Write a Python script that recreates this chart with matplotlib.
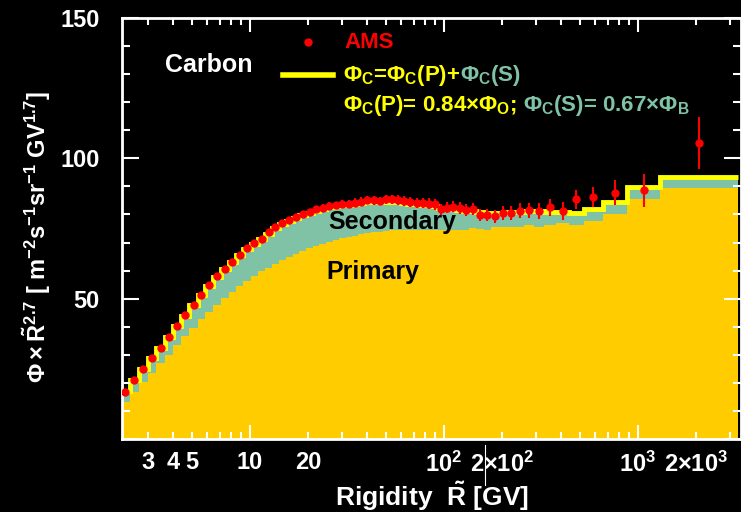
import numpy as np
import matplotlib
matplotlib.use('Agg')
import matplotlib.pyplot as plt
from matplotlib.ticker import FixedLocator, LogLocator, MultipleLocator, FuncFormatter
from matplotlib.lines import Line2D

plt.rcParams['font.family'] = ['Liberation Sans', 'DejaVu Sans']
plt.rcParams['font.weight'] = 'bold'
plt.rcParams['axes.labelweight'] = 'bold'
plt.rcParams['mathtext.fontset'] = 'custom'
plt.rcParams['mathtext.rm'] = 'Liberation Sans:bold'
plt.rcParams['mathtext.it'] = 'Liberation Sans:bold'
plt.rcParams['mathtext.bf'] = 'Liberation Sans:bold'
plt.rcParams['mathtext.sf'] = 'Liberation Sans:bold'
plt.rcParams['mathtext.default'] = 'rm'

# rigidity bin edges [GV]
edges = np.array([2.15, 2.40, 2.67, 2.97, 3.29, 3.64, 4.02, 4.43, 4.88, 5.37,
                  5.90, 6.47, 7.09, 7.76, 8.48, 9.26, 10.1, 11.0, 12.0, 13.0,
                  14.1, 15.3, 16.6, 18.0, 19.5, 21.1, 22.8, 24.7, 26.7, 28.8,
                  31.1, 33.5, 36.1, 38.9, 41.9, 45.1, 48.5, 52.2, 56.1, 60.3,
                  64.8, 69.7, 74.9, 80.5, 86.5, 93.0, 100, 108, 116, 125,
                  135, 147, 160, 175, 192, 211, 233, 259, 291, 330,
                  379, 441, 525, 660, 880, 1300, 3300])

# AMS carbon flux x R^2.7
ams_flux = [16.8, 21.1, 25.0, 28.9, 32.5, 36.4, 40.4, 44.3, 47.9, 51.4,
            55.0, 57.9, 60.7, 63.2, 65.7, 67.9, 70.0, 71.4,
            73.6, 75.5, 77.0, 78.0, 79.2, 80.2, 81.0, 81.8, 82.4, 83.0, 83.3, 83.6, 83.9, 84.2, 84.6,
            85.1, 85.1, 84.8, 85.4, 85.4, 85.1, 84.8, 84.4, 84.2, 84.2, 83.9, 83.6,
            81.8, 82.4, 82.8, 82.4, 81.5, 82.0,
            79.8, 79.8, 79.4, 80.6, 80.4, 81.4, 81.5, 81.3, 82.6, 81.2,
            85.4, 86.2, 87.8, 88.6, 105.4]
ams_err = [0.4, 0.4, 0.4, 0.4, 0.4, 0.4, 0.4, 0.4, 0.4, 0.4,
           0.5, 0.5, 0.6, 0.6, 0.6, 0.7, 0.7, 0.8, 0.8,
           0.9, 0.9, 1.0, 1.0, 1.1, 1.1, 1.2, 1.2, 1.3, 1.3, 1.4,
           1.4, 1.5, 1.5, 1.5, 1.6, 1.6, 1.6, 1.7, 1.7, 1.7, 1.8, 1.8, 1.8, 1.9, 1.9,
           1.9, 2.0, 2.0, 2.1, 2.1, 2.2, 2.2, 2.3, 2.3, 2.4,
           2.5, 2.6, 2.7, 2.8, 3.0, 3.1,
           3.3, 3.7, 4.5, 5.9, 9.3]

# model: total = primary + secondary
total_flux = [17.0, 21.0, 25.0, 28.8, 32.5, 36.3, 40.2, 44.0, 47.7, 51.2,
              54.6, 57.6, 60.4, 62.9, 65.4, 67.6, 69.6, 71.4,
              73.2, 75.1, 76.6, 77.6, 78.8, 79.8, 80.6, 81.4, 82.0, 82.6, 82.9, 83.2, 83.5, 83.8, 84.1,
              84.3, 84.4, 84.4, 84.5, 84.5, 84.3, 84.1, 83.9, 83.7, 83.5, 83.2, 82.9,
              82.4, 82.1, 81.9, 81.6, 81.3,
              81.1, 80.8, 80.5, 80.5, 80.6, 80.8, 81.0, 81.1, 81.2, 81.0,
              80.8, 80.5, 81.8, 84.3, 89.9, 93.2]
primary_flux = [13.3, 16.6, 20.2, 23.6, 26.9, 30.1, 33.4, 36.6, 39.7, 42.6,
                45.4, 47.8, 50.1, 52.2, 54.4, 56.3, 58.1, 59.7, 61.1, 62.4,
                63.6, 64.8, 65.9, 66.9, 67.9, 68.8, 69.6, 70.3, 70.9, 71.5,
                72.0, 72.5, 72.9, 73.3, 73.6, 73.9, 74.1, 74.3, 74.4, 74.5,
                74.5, 74.5, 74.5, 74.5, 74.5, 74.4, 74.4, 74.4, 74.5, 74.5,
                75.2, 75.0, 74.4, 75.6, 75.6, 75.6, 75.6, 76.2, 75.6, 76.4,
                76.8, 76.4, 77.6, 80.0, 85.4, 89.5]

x_ticklabels = {3: '3', 4: '4', 5: '5', 10: '10', 20: '20',
                100: '10$^2$', 200: '2$\\times$10$^2$',
                1000: '10$^3$', 2000: '2$\\times$10$^3$'}

GOLD = '#FFCC00'
TEAL = '#80C2A6'
YELLOW = '#FFFF00'

fig = plt.figure(figsize=(7.41, 5.12), dpi=100, facecolor='black')
ax = fig.add_axes([0.1646, 0.1426, 0.8354, 0.8222])
ax.set_facecolor('black')

ax.stairs(primary_flux, edges, baseline=0, fill=True, color=GOLD, lw=0)
ax.stairs(total_flux, edges, baseline=primary_flux, fill=True, color=TEAL, lw=0)
ax.stairs(total_flux, edges, baseline=None, color=YELLOW, lw=3.5)

centers = np.sqrt(edges[:-1] * edges[1:])
ax.errorbar(centers, ams_flux, yerr=ams_err, fmt='o', color='red', ms=5,
            elinewidth=1.5, capsize=0, zorder=5)

ax.set_xscale('log')
ax.set_xlim(2.19, 3400)
ax.set_ylim(0, 150)

ax.xaxis.set_major_locator(FixedLocator([10, 100, 1000]))
ax.xaxis.set_minor_locator(LogLocator(base=10, subs=np.arange(2, 10), numticks=30))
fmt = FuncFormatter(lambda v, p: x_ticklabels.get(int(round(v)), ''))
ax.xaxis.set_major_formatter(fmt)
ax.xaxis.set_minor_formatter(fmt)
ax.yaxis.set_major_locator(MultipleLocator(50))
ax.yaxis.set_minor_locator(MultipleLocator(10))
ax.yaxis.set_major_formatter(FuncFormatter(lambda v, p: '' if v == 0 else '%d' % v))

ax.tick_params(which='both', direction='in', top=True, right=True,
               colors='white', width=1.5, labelsize=17)
ax.tick_params(axis='y', which='major', length=12, pad=16)
ax.tick_params(axis='y', which='minor', length=6)
ax.tick_params(axis='x', which='major', length=10, pad=9)
ax.tick_params(axis='x', which='minor', length=5, pad=9)
for s in ax.spines.values():
    s.set_color('white')
    s.set_linewidth(2)

ax.set_xlabel(r'Rigidity  $\tilde{R}$ [GV]', fontsize=19, color='white', labelpad=2)
ax.set_ylabel(r'$\Phi\times\tilde{R}^{2.7}$ [ m$^{-2}$s$^{-1}$sr$^{-1}$ GV$^{1.7}$]',
              fontsize=17, color='white')
ax.yaxis.set_label_coords(-0.111, 0.48)

# text and legend
ax.text(0.0695, 0.888, 'Carbon', color='white', fontsize=18, va='center', transform=ax.transAxes)
ax.text(0.333, 0.515, 'Secondary', color='black', fontsize=18, va='center', transform=ax.transAxes)
ax.text(0.330, 0.397, 'Primary', color='black', fontsize=18, va='center', transform=ax.transAxes)

ax.plot([0.3005], [0.943], 'o', color='red', ms=5, transform=ax.transAxes)
ax.text(0.360, 0.943, 'AMS', color='red', fontsize=16, va='center', transform=ax.transAxes)
ax.plot([0.260, 0.341], [0.8646, 0.8646], color=YELLOW, lw=4, transform=ax.transAxes)

t1 = ax.text(0.357, 0.8646, r'$\Phi_C$=$\Phi_C$(P)+', color=YELLOW, fontsize=16,
             va='center', transform=ax.transAxes)
ax.annotate(r'$\Phi_C$(S)', xy=(1, 0), xycoords=t1, va='bottom', ha='left',
            color=TEAL, fontsize=16)
t2 = ax.text(0.357, 0.793, r'$\Phi_C$(P)= 0.84$\times\Phi_O$;', color=YELLOW, fontsize=16,
             va='center', transform=ax.transAxes)
ax.annotate(r' $\Phi_C$(S)= 0.67$\times\Phi_B$', xy=(1, 0), xycoords=t2, va='bottom',
            ha='left', color=TEAL, fontsize=16)

fig.add_artist(Line2D([485 / 741, 485 / 741], [1 - 445 / 512, 1 - 485 / 512],
                      color='white', lw=0.8))

fig.savefig('out.png', dpi=100, facecolor='black')
